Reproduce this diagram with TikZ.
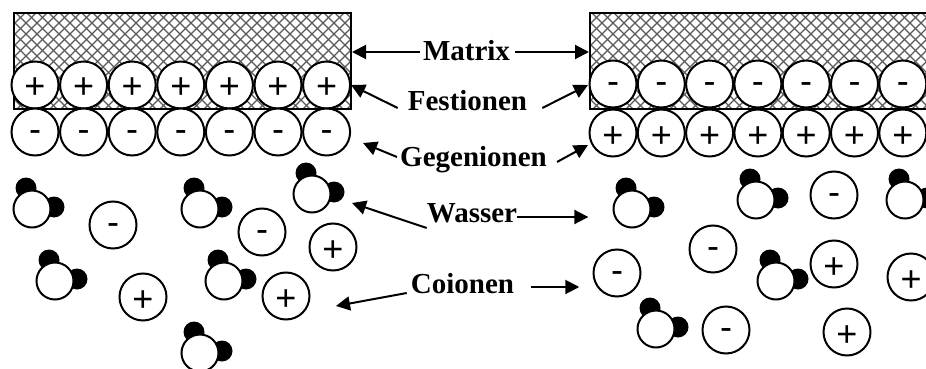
\documentclass[tikz,border=0pt]{standalone}
\usepackage{fontspec}
\setmainfont{Liberation Serif}
\newfontfamily\signfont{Liberation Sans}
\usetikzlibrary{arrows.meta,calc}

\begin{document}
\begin{tikzpicture}[x=1pt,y=-1pt,
  ion/.style={circle,draw,line width=2pt,fill=white,minimum size=47pt,
    inner sep=0pt,font=\signfont\fontsize{36}{36}\selectfont},
  posion/.style={ion,text height=28pt,text depth=0pt},
  negion/.style={ion,text height=18.7pt,text depth=0pt},
  lbl/.style={font=\bfseries\fontsize{29}{30}\selectfont,inner sep=0pt,anchor=base},
  pointer/.style={line width=2pt,-{Triangle[length=14pt,width=14pt]}},
  hatchline/.style={black!65,line width=1.3pt},
  matrixwall/.style={draw,line width=2pt,inner sep=0pt,anchor=north west,
    path picture={
      \foreach \k in {0,...,80}{
        \draw[hatchline] ($(path picture bounding box.north west)+(\k*11-130,0)$) -- ++(130,130);
        \draw[hatchline] ($(path picture bounding box.north west)+(\k*11,0)$) -- ++(-130,130);
      }}},
  water/.pic={
    \fill (-6,-21) circle[radius=10.5pt];
    \fill (22,-2) circle[radius=10.5pt];
    \draw[line width=2pt,fill=white] (0,0) circle[radius=18.5pt];
  }]
\useasboundingbox (0,0) rectangle (926,369);
\clip (0,0) rectangle (926,369);

% ion exchanger matrices
\node[matrixwall,minimum width=337pt,minimum height=96pt] (lmat) at (13,12) {};
\node[matrixwall,minimum width=360pt,minimum height=96pt] (rmat) at (589,12) {};

% fixed ions and counter ions, left side
\foreach \i in {0,...,6}{
  \node[posion] (lf\i) at (35+48.6*\i,85) {+};
  \node[negion] (lg\i) at (35+48.6*\i,132) {-};
}
% fixed ions and counter ions, right side
\foreach \i in {0,...,6}{
  \node[negion] (rf\i) at (613+48.3*\i,84) {-};
  \node[posion] (rg\i) at (613+48.3*\i,133) {+};
}

% free solution, left
\pic (lw1) at (32,209) {water};
\pic (lw2) at (200,209) {water};
\pic (lw3) at (312,194) {water};
\pic (lw4) at (55,281) {water};
\pic (lw5) at (224,281) {water};
\pic (lw6) at (200,353) {water};
\node[negion] (li1) at (113,225) {-};
\node[negion] (li2) at (262,232) {-};
\node[posion] (li3) at (333,247) {+};
\node[posion] (li4) at (143,297) {+};
\node[posion] (li5) at (286,296) {+};

% free solution, right
\pic (rw1) at (632,209) {water};
\pic (rw2) at (756,200) {water};
\pic (rw3) at (905,200) {water};
\pic (rw4) at (776,281) {water};
\pic (rw5) at (656,329) {water};
\node[negion] (ri1) at (834,195) {-};
\node[negion] (ri2) at (713,249) {-};
\node[negion] (ri3) at (617,273) {-};
\node[posion] (ri4) at (834,264) {+};
\node[posion] (ri5) at (911,277) {+};
\node[negion] (ri6) at (726,330) {-};
\node[posion] (ri7) at (847,332) {+};

% labels
\node[lbl] (matrix) at (466.5,60) {Matrix};
\node[lbl] (fest) at (467.5,110) {Festionen};
\node[lbl] (gegen) at (473.5,166) {Gegenionen};
\node[lbl] (wasser) at (472,222) {Wasser};
\node[lbl] (coio) at (462.5,293) {Coionen};

% arrow targets
\coordinate (fLtip) at (351,85);
\coordinate (fRtip) at (588,85);
\coordinate (gLtip) at (363,143);
\coordinate (gRtip) at (588,145);
\coordinate (wLtip) at (352,203);
\coordinate (cLtip) at (336,306);

% pointers
\draw[pointer] ($(matrix.base west)+(-3,-8)$) coordinate (mlt) -- (mlt -| lmat.east);
\draw[pointer] ($(matrix.base east)+(5,-8)$) coordinate (mrt) -- (mrt -| rmat.west);
\draw[pointer] ($(fest.base west)+(-10,-2)$) -- (fLtip);
\draw[pointer] ($(fest.base east)+(15,-2)$) -- (fRtip);
\draw[pointer] ($(gegen.base west)+(-3,-9)$) -- (gLtip);
\draw[pointer] ($(gegen.base east)+(10,-4)$) -- (gRtip);
\draw[pointer] ($(wasser.base west)+(0,6)$) -- (wLtip);
\draw[pointer] ($(wasser.base east)+(0,-5)$) coordinate (wrt) -- ($(wrt)+(71,0)$);
\draw[pointer] ($(coio.base west)+(-4,0)$) -- (cLtip);
\draw[pointer] ($(coio.base east)+(17,-6)$) coordinate (crt) -- ($(crt)+(48,0)$);
\end{tikzpicture}
\end{document}
